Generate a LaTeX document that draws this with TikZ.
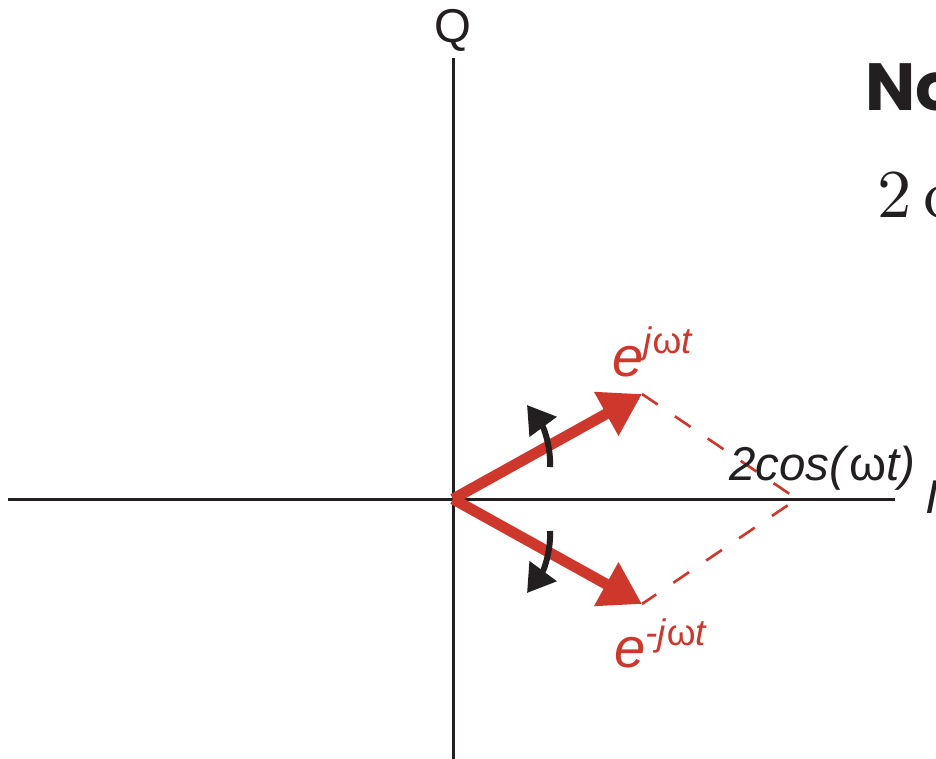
\documentclass[tikz,border=0pt]{standalone}
\usepackage{fontspec}
\setmainfont{Liberation Sans}
\newfontfamily\popfont{Poppins}[BoldFont={* Bold}]
\newfontfamily\lmfont{lmroman10-regular}[Extension=.otf]
\usetikzlibrary{arrows.meta}
\definecolor{myred}{RGB}{206,56,44}
\definecolor{myblack}{RGB}{35,31,32}
\tikzset{
  axisline/.style={myblack, line width=1.7pt},
  phasor/.style={myred, line width=6.2pt, -{Triangle[length=23.3pt,width=27pt]}},
  sumline/.style={myred, line width=1.5pt, dash pattern=on 10.8pt off 11.8pt},
  rotarrow/.style={myblack, line width=3.4pt, -{Triangle[length=15.5pt,width=18.5pt]}},
  redlabel/.style={myred, inner sep=0pt, anchor=base west},
  blklabel/.style={myblack, inner sep=0pt, anchor=base west},
}
\begin{document}
\begin{tikzpicture}[x=0.02cm,y=-0.02cm]
\useasboundingbox (0,0) rectangle (936,758);
\clip (0,0) rectangle (936,758);
\fill[white] (0,0) rectangle (936,758);
% coordinates
\coordinate (O) at (453,499);
\coordinate (axL) at (8,499);
\coordinate (axR) at (895,499);
\coordinate (axT) at (453,58);
\coordinate (axB) at (453,762);
\coordinate (tipU) at (642,394);
\coordinate (tipD) at (642,604);
\coordinate (V) at (797,499);
% axes
\draw[axisline] (axL) -- (axR);
\draw[axisline] (axT) -- (axB);
% dashed sum
\draw[sumline] (tipU) -- (V) -- (tipD);
% phasors
\draw[phasor] (O) -- (tipU);
\draw[phasor] (O) -- (tipD);
% rotation arrows
\coordinate (rU0) at (550,467);
\coordinate (rU1) at (527,405);
\coordinate (rD0) at (550,531);
\coordinate (rD1) at (527,593);
\draw[rotarrow] (rU0) .. controls (551,448) and (544,428) .. (rU1);
\draw[rotarrow] (rD0) .. controls (551,550) and (544,570) .. (rD1);
% labels
\node[blklabel, anchor=base] (Q) at (453,42) {\fontsize{27}{27}\selectfont Q};
\node[blklabel] (I) at (925,513) {\fontsize{27}{27}\selectfont\itshape I};
\node[redlabel] (eU) at (612,376) {\fontsize{32}{32}\selectfont\itshape e\raisebox{13pt}{\fontsize{21}{21}\selectfont j\textup{ω}t}};
\node[redlabel] (eD) at (614,667) {\fontsize{32}{32}\selectfont\itshape e\raisebox{12pt}{\fontsize{21}{21}\selectfont -j\textup{ω}t}};
\node[blklabel] (cosl) at (729,480) {\fontsize{27}{27}\selectfont\itshape 2cos(\textup{ω}t)};
\node[blklabel] (note) at (865,110) {\fontsize{38}{38}\selectfont\popfont\bfseries No};
\node[blklabel] (eq) at (877,217) {\fontsize{39}{39}\selectfont\lmfont 2\kern0.17em c};
\end{tikzpicture}
\end{document}
